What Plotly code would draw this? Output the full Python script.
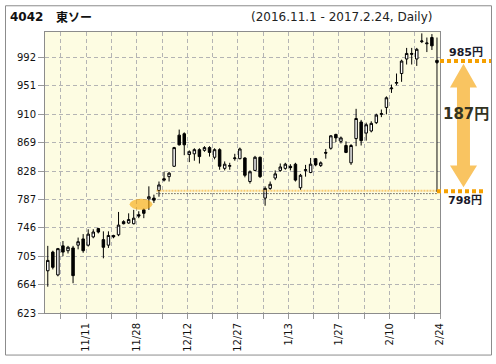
import plotly.graph_objects as go

# ---- data (2016.11.1 - 2017.2.24, daily, 4042 東ソー) ----
dates = ["11/1","11/2","11/4","11/7","11/8","11/9","11/10","11/11","11/14","11/15",
         "11/16","11/17","11/18","11/21","11/22","11/24","11/25","11/28","11/29","11/30",
         "12/1","12/2","12/5","12/6","12/7","12/8","12/9","12/12","12/13","12/14",
         "12/15","12/16","12/19","12/20","12/21","12/22","12/26","12/27","12/28","12/29",
         "12/30","1/4","1/5","1/6","1/10","1/11","1/12","1/13","1/16","1/17",
         "1/18","1/19","1/20","1/23","1/24","1/25","1/26","1/27","1/30","1/31",
         "2/1","2/2","2/3","2/6","2/7","2/8","2/9","2/10","2/13","2/14",
         "2/15","2/16","2/17","2/20","2/21","2/22","2/23","2/24"]
opens  = [684,711,678,720,713,717,721,730,721,733, 745,729,721,735,736,755,753,752,765,772,
          788,789,800,817,820,835,880,882,852,853, 859,858,862,848,859,832,835,846,846,847,
          813,829,848,789,803,818,829,832,835,838, 804,829,826,846,836,855,861,881,871,865,
          840,875,899,883,886,898,910,920,947,955, 969,990,998,990,1015,1012,1021,988]
highs  = [720,713,717,727,720,720,732,737,744,744, 746,741,741,736,769,757,767,772,770,774,
          806,794,813,827,827,863,888,884,858,861, 861,864,864,861,861,842,840,853,862,848,
          829,850,849,806,813,829,839,840,838,840, 824,837,847,847,842,860,880,882,878,871,
          867,918,902,898,900,911,917,936,953,969, 989,1006,1006,1006,1027,1021,1026,1021]
lows   = [661,686,676,705,709,666,715,710,719,731, 738,702,717,731,734,751,752,751,760,760,
          772,782,791,813,813,834,865,851,841,843, 839,856,849,845,830,829,830,843,845,819,
          810,828,818,778,801,815,827,830,829,813, 801,820,825,835,834,846,859,870,868,854,
          837,864,865,872,884,896,906,910,941,952, 957,982,982,980,1013,1000,1003,983]
closes = [699,689,716,711,718,677,726,713,737,740, 740,718,735,733,750,752,758,760,763,767,
          791,786,808,815,825,862,866,866,856,859, 849,862,855,859,835,838,836,847,860,822,
          827,848,820,803,809,824,834,838,833,815, 822,830,838,837,840,854,879,876,876,855,
          865,904,872,895,897,909,911,934,948,956, 987,998,997,1004,1016,1013,1009,985]

y_ticks = [623, 664, 705, 746, 787, 828, 869, 910, 951, 992]
x_labels = ["11/11", "11/28", "12/12", "12/27", "1/13", "1/27", "2/10", "2/24"]

level_low = 798
level_now = 985
gain = level_now - level_low
highlight_dates = ["11/28", "11/29", "11/30", "12/1"]
highlight_price = 780

# ---- layout geometry ----
W, H = 496, 364
ML, MR, MT, MB = 45, 56, 32, 48
PW, PH = W - ML - MR, H - MT - MB
Y_MIN, Y_MAX = 623, 1029
X_MIN, X_MAX = 0.45, 78.6

def px(xp):
    return (xp - ML) / PW

def py(yp):
    return (H - MB - yp) / PH

def vy(v):
    return (v - Y_MIN) / (Y_MAX - Y_MIN)

FONT = "Verdana, DejaVu Sans, Noto Sans CJK JP, sans-serif"

xs = list(range(1, len(dates) + 1))

fig = go.Figure()
fig.add_trace(go.Candlestick(
    x=xs, open=opens, high=highs, low=lows, close=closes,
    increasing=dict(line=dict(color="black", width=1), fillcolor="white"),
    decreasing=dict(line=dict(color="black", width=1), fillcolor="black"),
    whiskerwidth=0, hoverinfo="skip", showlegend=False,
))

grid_vals = [3.6 + 5 * k for k in range(16)]
grid_text = []
for g in grid_vals:
    lbl = ""
    for l in x_labels:
        if abs(dates.index(l) + 1.6 - g) < 0.01:
            lbl = l
    grid_text.append(lbl)

fig.update_layout(
    width=W, height=H,
    margin=dict(l=ML, r=MR, t=MT, b=MB, pad=0),
    paper_bgcolor="white", plot_bgcolor="#fdfce2",
    font=dict(family=FONT, size=10, color="#111"),
    showlegend=False,
    xaxis=dict(range=[X_MIN, X_MAX], tickmode="array", tickvals=grid_vals, ticktext=grid_text,
               tickangle=-90, ticks="outside", ticklen=5, tickcolor="#999",
               showgrid=True, gridcolor="#b4b4b4", griddash="4px,3px", gridwidth=1,
               showline=True, linecolor="#8c8c8c", linewidth=1, mirror=True,
               zeroline=False, rangeslider=dict(visible=False), fixedrange=True,
               tickfont=dict(size=10)),
    yaxis=dict(range=[Y_MIN, Y_MAX], tickmode="array", tickvals=y_ticks,
               ticks="outside", ticklen=6, tickcolor="#999",
               showgrid=True, gridcolor="#b4b4b4", griddash="4px,3px", gridwidth=1,
               showline=True, linecolor="#8c8c8c", linewidth=1, mirror=True,
               zeroline=False, fixedrange=True, tickfont=dict(size=10)),
)

shapes = []
# highlight ellipse
hx = [dates.index(d) + 1 for d in highlight_dates]
shapes.append(dict(type="circle", xref="x", yref="y", x0=min(hx) - 0.8, x1=max(hx) + 0.7,
                   y0=highlight_price - 8, y1=highlight_price + 8,
                   fillcolor="rgba(247,164,0,0.6)", line=dict(width=0), layer="above"))
# level lines inside plot
start_x = dates.index("12/5") + 1 - 0.5
shapes.append(dict(type="line", xref="x", yref="y", x0=start_x, x1=len(dates),
                   y0=level_low + 1.5, y1=level_low + 1.5,
                   line=dict(color="rgba(245,170,40,0.6)", width=2, dash="2px,1px")))
shapes.append(dict(type="line", xref="x", yref="y", x0=start_x, x1=len(dates),
                   y0=level_low - 2.5, y1=level_low - 2.5,
                   line=dict(color="#111", width=1, dash="1px,2px")))
shapes.append(dict(type="line", xref="x", yref="y", x0=len(dates), x1=len(dates),
                   y0=level_low, y1=level_now, line=dict(color="#111", width=1)))
# right side orange dotted levels
shapes.append(dict(type="line", xref="paper", yref="paper", x0=px(440), x1=px(491),
                   y0=vy(level_now + 2), y1=vy(level_now + 2),
                   line=dict(color="#f5a000", width=4, dash="4px,3px")))
shapes.append(dict(type="line", xref="paper", yref="paper", x0=px(437), x1=px(483),
                   y0=vy(level_low + 1), y1=vy(level_low + 1),
                   line=dict(color="#f5a000", width=4, dash="4px,3px")))
# double-headed arrow
pts = [(463.5, 64), (477, 88), (470, 88), (470, 167), (477, 167), (463.5, 189),
       (450, 167), (457, 167), (457, 88), (450, 88)]
path = "M " + " L ".join(f"{px(a):.4f},{py(b):.4f}" for a, b in pts) + " Z"
shapes.append(dict(type="path", xref="paper", yref="paper", path=path,
                   fillcolor="rgba(245,160,0,0.62)", line=dict(width=0)))
# outer frame
shapes.append(dict(type="rect", xref="paper", yref="paper", x0=px(5.5), x1=px(491.5),
                   y0=py(358.5), y1=py(5.5), line=dict(color="#8c8c8c", width=1)))
fig.update_layout(shapes=shapes)

ann = []
ann.append(dict(xref="paper", yref="paper", x=px(8), y=py(17), xanchor="left", yanchor="middle",
                text="<b>4042</b>", showarrow=False, font=dict(size=12, color="#111")))
ann.append(dict(xref="paper", yref="paper", x=px(54), y=py(17), xanchor="left", yanchor="middle",
                text="<b>東ソー</b>", showarrow=False, font=dict(size=12, color="#111")))
ann.append(dict(xref="paper", yref="paper", x=px(434), y=py(17), xanchor="right", yanchor="middle",
                text="(2016.11.1 - 2017.2.24, Daily)", showarrow=False,
                font=dict(size=12, color="#222")))
ann.append(dict(xref="paper", yref="paper", x=px(466), y=py(53), xanchor="center", yanchor="middle",
                text=f"<b>{level_now}円</b>", showarrow=False, font=dict(size=11, color="#1a1a2a")))
ann.append(dict(xref="paper", yref="paper", x=px(466), y=py(115), xanchor="center", yanchor="middle",
                text=f"<b>{gain}円</b>", showarrow=False, font=dict(size=15, color="#333322")))
ann.append(dict(xref="paper", yref="paper", x=px(465), y=py(202), xanchor="center", yanchor="middle",
                text=f"<b>{level_low}円</b>", showarrow=False, font=dict(size=11, color="#1a1a2a")))
fig.update_layout(annotations=ann)

fig.write_html("out.html", config={"displayModeBar": False, "staticPlot": True},
               post_script="document.body.style.margin='0';document.body.style.overflow='hidden';")
